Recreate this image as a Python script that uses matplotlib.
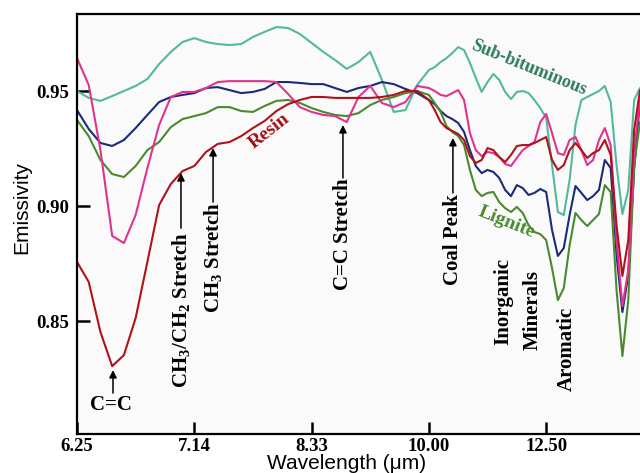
import matplotlib
matplotlib.use('Agg')
import matplotlib.pyplot as plt

plt.rcParams['font.family'] = 'Liberation Serif'
plt.rcParams['mathtext.fontset'] = 'custom'
plt.rcParams['mathtext.rm'] = 'Liberation Serif:bold'
plt.rcParams['mathtext.it'] = 'Liberation Serif:bold'
plt.rcParams['mathtext.default'] = 'rm'

# wavenumber grid (cm^-1), plotted on a reversed axis labelled in wavelength (um)
wavenumber = [1600, 1580, 1560, 1540, 1520, 1500, 1480, 1460, 1440, 1420,
              1400, 1380, 1360, 1340, 1320, 1300, 1280, 1260, 1240, 1220,
              1200, 1180, 1160, 1140, 1120, 1100, 1080, 1060, 1040, 1020,
              1000, 990, 980, 970, 960, 950, 940, 930, 920, 910,
              900, 890, 880, 870, 860, 850, 840, 830, 820, 810,
              800, 790, 780, 770, 760, 750, 740, 730, 720, 710,
              700, 690, 680, 670, 660, 650, 640]

sub_bituminous = [0.9500, 0.9470, 0.9457, 0.9478, 0.9500, 0.9522, 0.9552, 0.9617, 0.9670, 0.9713,
                  0.9730, 0.9713, 0.9704, 0.9700, 0.9704, 0.9735, 0.9757, 0.9778, 0.9774, 0.9748,
                  0.9709, 0.9670, 0.9635, 0.9596, 0.9626, 0.9670, 0.9548, 0.9409, 0.9417, 0.9526,
                  0.9591, 0.9604, 0.9626, 0.9643, 0.9665, 0.9691, 0.9678, 0.9622, 0.9557, 0.9496,
                  0.9539, 0.9574, 0.9548, 0.9496, 0.9465, 0.9496, 0.9500, 0.9491, 0.9461, 0.9426,
                  0.9383, 0.9178, 0.8974, 0.8961, 0.9113, 0.9352, 0.9461, 0.9474, 0.9487, 0.9500,
                  0.9522, 0.9452, 0.9178, 0.8965, 0.9070, 0.9461, 0.9513]

bituminous = [0.9417, 0.9335, 0.9274, 0.9261, 0.9287, 0.9339, 0.9396, 0.9452, 0.9474, 0.9483,
              0.9491, 0.9513, 0.9517, 0.9504, 0.9491, 0.9496, 0.9509, 0.9539, 0.9539, 0.9535,
              0.9530, 0.9530, 0.9513, 0.9496, 0.9513, 0.9522, 0.9539, 0.9530, 0.9509, 0.9491,
              0.9461, 0.9443, 0.9413, 0.9391, 0.9378, 0.9361, 0.9322, 0.9243, 0.9174, 0.9143,
              0.9157, 0.9148, 0.9122, 0.9070, 0.9043, 0.9091, 0.9078, 0.9048, 0.9057, 0.9074,
              0.9061, 0.8896, 0.8783, 0.8817, 0.8961, 0.9087, 0.9057, 0.9026, 0.9043, 0.9070,
              0.9200, 0.9165, 0.8787, 0.8539, 0.8700, 0.9157, 0.9461]

lignite = [0.9374, 0.9304, 0.9200, 0.9139, 0.9126, 0.9174, 0.9243, 0.9278, 0.9343, 0.9378,
           0.9391, 0.9404, 0.9430, 0.9430, 0.9413, 0.9409, 0.9435, 0.9457, 0.9461, 0.9448,
           0.9426, 0.9409, 0.9396, 0.9391, 0.9404, 0.9439, 0.9461, 0.9474, 0.9491, 0.9500,
           0.9483, 0.9448, 0.9409, 0.9348, 0.9322, 0.9304, 0.9265, 0.9157, 0.9070, 0.9043,
           0.9057, 0.9061, 0.9017, 0.8991, 0.8974, 0.8996, 0.8970, 0.8917, 0.8887, 0.8878,
           0.8852, 0.8730, 0.8591, 0.8643, 0.8830, 0.8970, 0.8939, 0.8913, 0.8939, 0.8965,
           0.9091, 0.9061, 0.8635, 0.8348, 0.8591, 0.9178, 0.9365]

resin = [0.8757, 0.8670, 0.8452, 0.8304, 0.8352, 0.8513, 0.8757, 0.9004, 0.9096, 0.9152,
         0.9174, 0.9235, 0.9270, 0.9278, 0.9304, 0.9339, 0.9370, 0.9413, 0.9443, 0.9461,
         0.9474, 0.9474, 0.9470, 0.9470, 0.9470, 0.9470, 0.9474, 0.9483, 0.9500, 0.9500,
         0.9461, 0.9417, 0.9365, 0.9339, 0.9326, 0.9313, 0.9287, 0.9217, 0.9187, 0.9200,
         0.9252, 0.9243, 0.9213, 0.9191, 0.9222, 0.9261, 0.9265, 0.9265, 0.9274, 0.9287,
         0.9300, 0.9200, 0.9157, 0.9178, 0.9243, 0.9274, 0.9243, 0.9209, 0.9230, 0.9243,
         0.9287, 0.9222, 0.8917, 0.8696, 0.8852, 0.9330, 0.9504]

anthracite = [0.9643, 0.9526, 0.9243, 0.8870, 0.8839, 0.8961, 0.9165, 0.9352, 0.9474, 0.9496,
              0.9496, 0.9513, 0.9539, 0.9543, 0.9543, 0.9543, 0.9543, 0.9539, 0.9487, 0.9430,
              0.9409, 0.9396, 0.9391, 0.9365, 0.9474, 0.9522, 0.9448, 0.9430, 0.9452, 0.9522,
              0.9513, 0.9500, 0.9483, 0.9478, 0.9491, 0.9504, 0.9461, 0.9317, 0.9243, 0.9217,
              0.9235, 0.9230, 0.9213, 0.9183, 0.9174, 0.9209, 0.9243, 0.9261, 0.9278, 0.9365,
              0.9400, 0.9317, 0.9230, 0.9222, 0.9287, 0.9300, 0.9243, 0.9178, 0.9200, 0.9287,
              0.9339, 0.9265, 0.8852, 0.8565, 0.8722, 0.9243, 0.9461]

tick_wavenumber = [1600, 1400, 1200, 1000, 800]
tick_labels = ['6.25', '7.14', '8.33', '10.00', '12.50']

fig = plt.figure(figsize=(6.4, 4.73), dpi=100)
ax = fig.add_axes([0.1203, 0.0825, 0.8797, 0.888])
ax.set_facecolor('#fafafa')

lw = 1.5
style = dict(lw=lw, solid_joinstyle='round', solid_capstyle='round')
ax.plot(wavenumber, sub_bituminous, color='#52b99f', **style)
ax.plot(wavenumber, bituminous, color='#1c2a7a', **style)
ax.plot(wavenumber, lignite, color='#4a8a2e', **style)
ax.plot(wavenumber, anthracite, color='#e0338f', **style)
ax.plot(wavenumber, resin, color='#b0121b', **style)

ax.set_xlim(1600, 640)
ax.set_ylim(0.8009, 0.9835)
ax.set_xticks(tick_wavenumber)
ax.set_xticklabels(tick_labels)
ax.set_yticks([0.85, 0.90, 0.95])
ax.set_yticklabels(['0.85', '0.90', '0.95'])
ax.tick_params(direction='in', length=9, width=1.8, labelsize=13.5, pad=6)
ax.tick_params(axis='x', pad=3)
for lab in ax.get_xticklabels() + ax.get_yticklabels():
    lab.set_fontweight('bold')
for side in ['left', 'bottom', 'top']:
    ax.spines[side].set_linewidth(1.6)
ax.spines['right'].set_visible(False)

ax.set_xlabel('Wavelength (\u03bcm)', family='Liberation Sans', fontsize=15, va='center')
ax.xaxis.set_label_coords(0.478, -0.071)
ax.set_ylabel('Emissivity', family='Liberation Sans', fontsize=15, va='center')
ax.yaxis.set_label_coords(-0.098, 0.54)

fs = 15
arrow = dict(arrowstyle='-|>', color='black', lw=1.1, mutation_scale=11,
             shrinkA=0, shrinkB=0)

# C=C arrow below the resin minimum
ax.annotate('', xy=(1538.6, 0.8287), xytext=(1538.6, 0.8187), arrowprops=arrow)
ax.text(1542, 0.8135, 'C=C', fontsize=fs, fontweight='bold', ha='center', va='center')

# vertical labels with arrows pointing up to features
vlabels = [
    ('CH$_3$/CH$_2$ Stretch', 1422.7, 0.8209, 0.8904, 0.9143),
    ('CH$_3$ Stretch', 1368.0, 0.8535, 0.9017, 0.9252),
    ('C=C Stretch', 1146.5, 0.8635, 0.9122, 0.9352),
    ('Coal Peak', 959.0, 0.8657, 0.9057, 0.9296),
]
for text, x, y0, y1, y2 in vlabels:
    ax.text(x, y0, text, fontsize=fs, fontweight='bold', rotation=90,
            ha='center', va='bottom')
    ax.annotate('', xy=(x, y2), xytext=(x, y1), arrowprops=arrow)

ax.text(873.7, 0.8583, 'Inorganic', fontsize=fs, fontweight='bold', rotation=90,
        ha='center', va='center')
ax.text(822.5, 0.8548, 'Minerals', fontsize=fs, fontweight='bold', rotation=90,
        ha='center', va='center')
ax.text(764.5, 0.8378, 'Aromatic', fontsize=fs, fontweight='bold', rotation=90,
        ha='center', va='center')

# curve names
ax.text(830.0, 0.9600, 'Sub-bituminous', fontsize=13, fontweight='bold',
        color='#2f7d5c', rotation=-22, ha='center', va='center')
ax.text(867.0, 0.8930, 'Lignite', fontsize=14, fontweight='bold',
        color='#4a8a2e', rotation=-22, ha='center', va='center')
ax.text(1272.6, 0.9326, 'Resin', fontsize=14, fontweight='bold',
        color='#a01010', rotation=38, ha='center', va='center')

fig.savefig('out.png', dpi=100)
